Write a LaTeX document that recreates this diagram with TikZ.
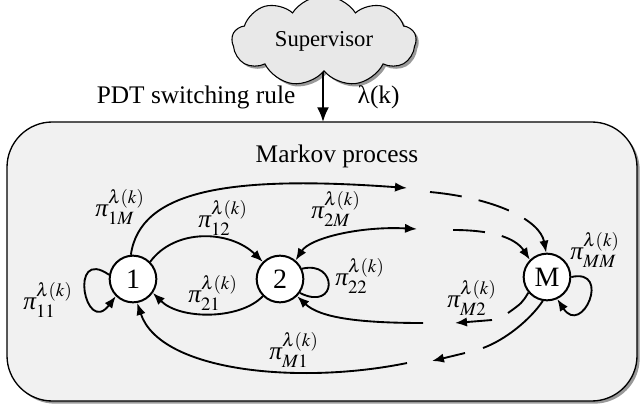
\documentclass[tikz,border=0pt]{standalone}
\usepackage{mathptmx}
\usepackage{fontspec}
\setmainfont{Liberation Serif}
\usepackage{tikz}
\usetikzlibrary{arrows.meta}
\usetikzlibrary{shapes.symbols}
\usetikzlibrary{shadows}
\usetikzlibrary{positioning}
\definecolor{procgray}{RGB}{241,241,241}
\definecolor{cloudgray}{RGB}{232,232,232}
\newcommand{\prob}[1]{$\textit{π}^{\lambda(k)}_{#1}$}

\begin{document}
\begin{tikzpicture}[x=0.75pt,y=-0.75pt,
    state/.style={circle,draw,line width=1.5pt,fill=white,minimum size=35pt,inner sep=0pt,font=\fontsize{21}{24}\selectfont},
    trans/.style={line width=1.4pt},
    tip/.style={-{Latex[length=9pt,width=7pt]}},
    rate/.style={font=\fontsize{19}{22}\selectfont,inner sep=0pt},
    brk/.style={dash pattern=on 24pt off 13pt},
    shade/.style={drop shadow={shadow xshift=2pt,shadow yshift=-2pt,fill=gray!80,opacity=1}}]
  \useasboundingbox (0,0) rectangle (641,413);

  % supervisor and switching signal
  \node[cloud,cloud puffs=9,cloud puff arc=115,aspect=2.2,draw,line width=0.8pt,fill=cloudgray,shade,
        minimum width=138pt,minimum height=68pt,inner sep=0pt,font=\fontsize{17}{20}\selectfont] (sup) at (324,41) {Supervisor};
  \path[draw,line width=1pt,fill=procgray,rounded corners=34pt,shade] (7,122) rectangle (637,401);
  \coordinate (top) at (323,122);
  \draw[line width=1.6pt,-{Latex[length=11pt,width=9pt]}] (sup.south -| top) -- (top);
  \node[font=\fontsize{19}{22}\selectfont,anchor=east] (rule) at (300,97) {PDT switching rule};
  \node[font=\fontsize{19}{22}\selectfont,anchor=west] (lam) at (353,97) {λ(k)};
  \node[font=\fontsize{19}{22}\selectfont] (mp) at (337,156) {Markov process};

  % modes
  \node[state] (n1) at (133,279) {1};
  \node[state] (n2) at (280,279) {2};
  \node[state] (nM) at (547,277) {M};

  % break points of the long transitions
  \coordinate (a1M) at (407,188);
  \coordinate (b1M) at (430,192);
  \coordinate (a2M) at (417,229);
  \coordinate (b2M) at (453,230);
  \coordinate (aM2) at (508,313);
  \coordinate (bM2) at (492,320);
  \coordinate (cM2) at (455,323);
  \coordinate (dM2) at (423,323);
  \coordinate (aM1) at (483,348);
  \coordinate (bM1) at (465,353);
  \coordinate (cM1) at (432,361);
  \coordinate (dM1) at (407,363);

  % transitions between 1 and 2
  \draw[trans,tip] (n1.45) .. controls (175,228) and (230,230) .. (n2.135);
  \draw[trans,tip] (n2.-135) .. controls (240,320) and (180,320) .. (n1.-35);
  \draw[trans,tip] (n1.170) .. controls (68,246) and (85,337) .. (n1.-135);
  \draw[trans] (n2.25) .. controls (338,260) and (338,312) .. (n2.-35);

  % transitions towards M
  \draw[trans,tip] (n1.95) .. controls (140,190) and (230,175) .. (a1M);
  \draw[trans,tip,brk] (b1M) .. controls (495,198) and (540,220) .. (nM.92);
  \draw[trans,{Latex[length=9pt,width=7pt]}-{Latex[length=9pt,width=7pt]}] (n2.50) .. controls (310,238) and (360,226) .. (a2M);
  \draw[trans,tip,brk] (b2M) .. controls (490,230) and (515,237) .. (nM.135);
  \draw[trans,tip] (nM.0) .. controls (612,268) and (582,337) .. (nM.-65);

  % transitions back from M
  \draw[trans] (nM.-140) .. controls (522,303) .. (aM2);
  \draw[trans,tip] (bM2) -- (cM2);
  \draw[trans,tip] (dM2) .. controls (360,323) and (320,318) .. (n2.-45);
  \draw[trans] (nM.-100) .. controls (530,320) and (505,340) .. (aM1);
  \draw[trans,tip] (bM1) -- (cM1);
  \draw[trans,tip] (dM1) .. controls (300,385) and (160,372) .. (n1.-80);

  % transition probabilities
  \node[rate] (p1M) at (120,207) {\prob{1M}};
  \node[rate] (p12) at (223,218) {\prob{12}};
  \node[rate] (p2M) at (336,209) {\prob{2M}};
  \node[rate] (p22) at (360,276) {\prob{22}};
  \node[rate] (p21) at (213,293) {\prob{21}};
  \node[rate] (p11) at (48,300) {\prob{11}};
  \node[rate] (pM1) at (294,350) {\prob{M1}};
  \node[rate] (pM2) at (472,298) {\prob{M2}};
  \node[rate] (pMM) at (595,250) {\prob{MM}};
\end{tikzpicture}
\end{document}
